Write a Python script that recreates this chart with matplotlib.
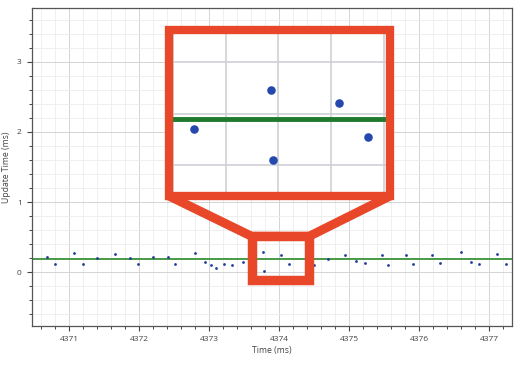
import matplotlib
matplotlib.use("Agg")
import matplotlib.pyplot as plt
from matplotlib.ticker import MultipleLocator
from matplotlib.patches import Rectangle
from matplotlib.lines import Line2D

plt.rcParams['font.family'] = ['Open Sans', 'DejaVu Sans']

# Data
time_ms = [4370.69, 4370.80, 4371.07, 4371.20, 4371.40, 4371.66, 4371.87, 4371.98,
           4372.20, 4372.42, 4372.52, 4372.80, 4372.94, 4373.03, 4373.10, 4373.22,
           4373.33, 4373.48, 4373.77, 4373.78, 4374.03, 4374.14, 4374.50, 4374.70,
           4374.94, 4375.10, 4375.23, 4375.47, 4375.56, 4375.81, 4375.92, 4376.18,
           4376.30, 4376.60, 4376.74, 4376.86, 4377.12, 4377.24]
update_ms = [0.22, 0.11, 0.27, 0.12, 0.20, 0.26, 0.20, 0.11,
             0.21, 0.22, 0.11, 0.27, 0.14, 0.10, 0.06, 0.12,
             0.10, 0.14, 0.29, 0.02, 0.24, 0.11, 0.10, 0.19,
             0.24, 0.16, 0.13, 0.24, 0.10, 0.25, 0.11, 0.25,
             0.13, 0.29, 0.15, 0.11, 0.26, 0.12]
mean_ms = 0.18
xticks = [4371, 4372, 4373, 4374, 4375, 4376, 4377]
yticks = [0, 1, 2, 3]
zoom_box = (4373.61, 4374.43, -0.11, 0.51)      # highlighted region (x0, x1, y0, y1)
inset_xlim = (4373.384, 4374.224)
inset_ylim = (-0.1185, 0.5225)

W, H = 520, 365
fig = plt.figure(figsize=(W / 100, H / 100), dpi=100)
ax = fig.add_axes([32 / W, 1 - 326 / H, 480 / W, 318 / H])

red = '#e8472a'
green = '#2a8a2a'
blue = '#1f3d99'

ax.set_xlim(4370.47, 4377.33)
ax.set_ylim(-0.77, 3.77)
ax.xaxis.set_major_locator(MultipleLocator(1))
ax.xaxis.set_minor_locator(MultipleLocator(0.2))
ax.yaxis.set_major_locator(MultipleLocator(1))
ax.yaxis.set_minor_locator(MultipleLocator(0.2))
ax.set_xticks(xticks)
ax.set_yticks(yticks)
ax.grid(which='major', color='#d4d4d4', linewidth=0.7)
ax.grid(which='minor', color='#ececec', linewidth=0.6)
ax.set_axisbelow(True)
for s in ax.spines.values():
    s.set_color('#555555')
    s.set_linewidth(0.9)
ax.tick_params(which='major', length=3.5, width=0.8, color='#444444', labelsize=6,
               labelcolor='#444444', pad=4)
ax.tick_params(which='minor', length=2.5, width=0.7, color='#444444')
ax.set_xlabel('Time (ms)', fontsize=6.2, color='#444444', labelpad=2)
ax.set_ylabel('Update Time (ms)', fontsize=6.2, color='#444444', labelpad=4)

ax.axhline(mean_ms, color=green, linewidth=1.2, zorder=2)
ax.scatter(time_ms, update_ms, s=4, color=blue, zorder=3, linewidths=0)

# highlighted region
x0, x1, y0, y1 = zoom_box
ax.add_patch(Rectangle((x0, y0), x1 - x0, y1 - y0, fill=False, edgecolor=red,
                       linewidth=6.8, joinstyle='miter', zorder=5, clip_on=False))

# inset
ibox = [169 / W, 1 - 196 / H, 221 / W, 166 / H]
iax = fig.add_axes(ibox)
iax.set_xlim(*inset_xlim)
iax.set_ylim(*inset_ylim)
iax.xaxis.set_major_locator(MultipleLocator(0.2))
iax.yaxis.set_major_locator(MultipleLocator(0.2))
iax.grid(which='major', color='#cfcfd8', linewidth=1.2)
iax.set_axisbelow(True)
iax.tick_params(left=False, bottom=False, labelleft=False, labelbottom=False)
for s in iax.spines.values():
    s.set_visible(False)
iax.axhline(mean_ms, color='#1f7a2e', linewidth=3.5, zorder=2)
iax.scatter(time_ms, update_ms, s=38, color='#2448ad', zorder=3, linewidths=0)

fig.add_artist(Rectangle((ibox[0], ibox[1]), ibox[2], ibox[3], transform=fig.transFigure,
                         fill=False, edgecolor=red, linewidth=6.0, joinstyle='miter',
                         zorder=7))

# funnel connecting the inset to the region
to_fig = ax.transData + fig.transFigure.inverted()
tl = to_fig.transform((x0, y1))
tr = to_fig.transform((x1, y1))
fx = [ibox[0], tl[0], tr[0], ibox[0] + ibox[2]]
fy = [ibox[1], tl[1], tr[1], ibox[1]]
fig.add_artist(Line2D(fx, fy, transform=fig.transFigure, color=red, linewidth=6.5,
                      solid_joinstyle='miter', solid_capstyle='butt', zorder=6))

fig.savefig('out.png', dpi=100)
